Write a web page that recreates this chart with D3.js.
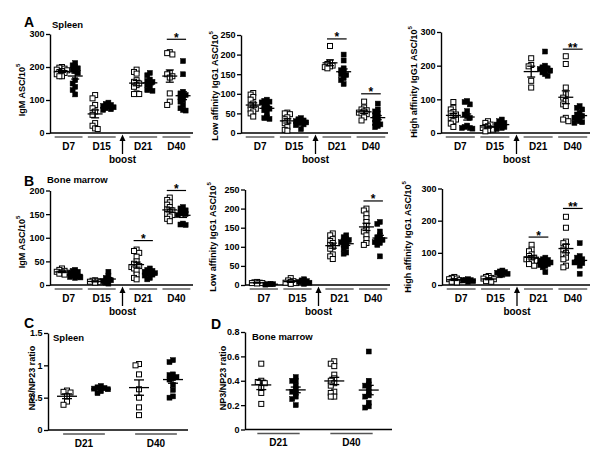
<!DOCTYPE html>
<html><head><meta charset="utf-8">
<script src="https://cdn.jsdelivr.net/npm/d3@7"></script>
<style>
body{margin:0;background:#fff}
text{font-family:Arial,"Liberation Sans",sans-serif;font-weight:bold;fill:#000}
</style>
</head><body>
<svg id="c" width="600" height="454"></svg>
<script>
// ---------- data ----------
const days = ["D7", "D15", "D21", "D40"];
const ratioDays = ["D21", "D40"];

const igmSpleenOpen = [
  [200, 198, 195, 192, 190, 188, 185, 182, 178, 172, 172],
  [115, 105, 85, 75, 65, 55, 30, 22, 14, 12],
  [192, 185, 180, 160, 155, 150, 145, 140, 120, 118, 118],
  [245, 242, 238, 182, 178, 172, 168, 120, 95, 85]
];
const igmSpleenFilled = [
  [212, 205, 200, 196, 192, 188, 182, 160, 150, 140, 130, 117],
  [92, 88, 85, 82, 80, 78, 75, 72, 70],
  [182, 175, 162, 158, 155, 150, 145, 135, 130, 128],
  [218, 178, 125, 120, 115, 112, 108, 100, 95, 85, 75, 70, 68]
];
const lowSpleenOpen = [
  [102, 98, 92, 85, 75, 70, 65, 62, 60, 55, 50, 42],
  [52, 50, 48, 40, 35, 30, 25, 15, 8, 6],
  [222, 180, 176, 172, 170, 168, 165],
  [80, 65, 60, 58, 55, 52, 50, 48, 40, 32]
];
const lowSpleenFilled = [
  [85, 82, 80, 78, 75, 70, 65, 62, 58, 50, 40, 38, 36],
  [38, 35, 32, 30, 28, 27, 25, 22, 20, 10],
  [200, 185, 165, 160, 155, 150, 148, 140, 135, 125],
  [75, 60, 55, 50, 45, 40, 35, 30, 25, 22, 18, 15]
];
const highSpleenOpen = [
  [92, 75, 70, 62, 58, 55, 50, 45, 40, 35, 28, 18],
  [35, 30, 25, 20, 18, 15, 12, 10, 8, 5],
  [222, 202, 198, 155, 135],
  [228, 205, 135, 115, 105, 95, 85, 80, 45, 40, 35]
];
const highSpleenFilled = [
  [95, 92, 85, 65, 55, 50, 45, 22, 18, 15, 15, 13],
  [40, 35, 30, 28, 25, 22, 18, 15, 12],
  [242, 200, 195, 192, 190, 188, 185, 180, 175, 170],
  [80, 75, 70, 60, 55, 50, 48, 45, 40, 35, 32, 30]
];
const igmBMOpen = [
  [35, 32, 30, 28, 27, 26, 25, 24, 22],
  [10, 9, 8, 7, 6, 5],
  [75, 72, 68, 60, 50, 45, 42, 40, 38, 35, 30, 22, 15, 12],
  [185, 180, 175, 170, 165, 160, 158, 155, 150, 148, 145, 140, 135]
];
const igmBMFilled = [
  [32, 30, 28, 25, 22, 20, 18, 17, 16, 15],
  [28, 20, 15, 12, 10, 8, 5, 3],
  [35, 32, 30, 28, 27, 25, 24, 22, 20, 15, 12],
  [165, 162, 158, 155, 152, 150, 148, 130, 128, 127]
];
const lowBMOpen = [
  [8, 7, 6, 5, 5, 4],
  [18, 12, 10, 8, 6, 5, 3],
  [135, 130, 120, 115, 110, 105, 100, 95, 80, 75, 68],
  [200, 195, 185, 175, 165, 155, 145, 140, 130, 120, 110, 105]
];
const lowBMFilled = [
  [3, 2, 2, 1],
  [15, 12, 10, 8, 6, 5, 3],
  [130, 125, 120, 118, 115, 112, 110, 105, 100, 95, 85, 82],
  [165, 160, 140, 130, 125, 120, 118, 115, 112, 110, 105, 75]
];
const highBMOpen = [
  [25, 22, 20, 18, 15, 12, 10, 8],
  [28, 25, 22, 20, 18, 15, 12, 10],
  [125, 110, 105, 95, 90, 85, 82, 80, 78, 75, 70, 65, 60],
  [212, 178, 135, 130, 120, 110, 100, 95, 85, 80, 60, 55]
];
const highBMFilled = [
  [18, 16, 15, 14, 12, 10],
  [45, 42, 40, 38, 35, 32, 30],
  [85, 80, 78, 75, 72, 70, 68, 65, 62, 60, 55, 40],
  [130, 90, 85, 80, 75, 72, 70, 68, 60, 35]
];
const ratioSpleenOpen = [
  [0.61, 0.59, 0.58, 0.52, 0.44, 0.39],
  [1.02, 1.0, 0.86, 0.63, 0.50, 0.35, 0.23]
];
const ratioSpleenFilled = [
  [0.68, 0.66, 0.65, 0.64, 0.63, 0.60, 0.57],
  [1.08, 1.05, 0.86, 0.85, 0.82, 0.80, 0.78, 0.70, 0.62, 0.52, 0.50]
];
const ratioBMOpen = [
  [0.54, 0.40, 0.39, 0.38, 0.34, 0.30, 0.21],
  [0.56, 0.54, 0.52, 0.45, 0.42, 0.40, 0.38, 0.36, 0.31, 0.30, 0.27, 0.27]
];
const ratioBMFilled = [
  [0.43, 0.40, 0.40, 0.36, 0.33, 0.31, 0.30, 0.27, 0.25, 0.20],
  [0.64, 0.40, 0.37, 0.36, 0.34, 0.31, 0.28, 0.27, 0.22, 0.19, 0.18]
];

const igmSpleenSig = [{day: "D40", mark: "*", at: 284}];
const lowSpleenSig = [{day: "D21", mark: "*", at: 240}, {day: "D40", mark: "*", at: 100}];
const highSpleenSig = [{day: "D40", mark: "**", at: 249}];
const igmBMSig = [{day: "D21", mark: "*", at: 94}, {day: "D40", mark: "*", at: 200}];
const lowBMSig = [{day: "D40", mark: "*", at: 220}];
const highBMSig = [{day: "D21", mark: "*", at: 149}, {day: "D40", mark: "**", at: 238}];

const ticks300 = [0, 100, 200, 300];
const ticks250 = [0, 50, 100, 150, 200, 250];
const ticks200 = [0, 50, 100, 150, 200];
const ticksRatioSpleen = [0, 0.5, 1, 1.5];
const ticksRatioBM = [0, 0.2, 0.4, 0.6, 0.8];

// ---------- drawing ----------
const svg = d3.select("#c");

const panels = [
  {open: igmSpleenOpen, filled: igmSpleenFilled, groups: days, ticks: ticks300, sig: igmSpleenSig, type: "time",
   axisX: 50, axisEnd: 193, yTop: 34, y0: 133, label: "IgM ASC/10", sup: "5", labelX: 22, labelY: 90},
  {open: lowSpleenOpen, filled: lowSpleenFilled, groups: days, ticks: ticks250, sig: lowSpleenSig, type: "time",
   axisX: 241, axisEnd: 388, yTop: 35, y0: 133, label: "Low affinity IgG1 ASC/10", sup: "5", labelX: 215, labelY: 86},
  {open: highSpleenOpen, filled: highSpleenFilled, groups: days, ticks: ticks300, sig: highSpleenSig, type: "time",
   axisX: 441, axisEnd: 590, yTop: 32, y0: 133, label: "High affinity IgG1 ASC/10", sup: "5", labelX: 414, labelY: 82},
  {open: igmBMOpen, filled: igmBMFilled, groups: days, ticks: ticks200, sig: igmBMSig, type: "time",
   axisX: 50, axisEnd: 193, yTop: 190.5, y0: 285, label: "IgM ASC/10", sup: "5", labelX: 22, labelY: 242},
  {open: lowBMOpen, filled: lowBMFilled, groups: days, ticks: ticks250, sig: lowBMSig, type: "time",
   axisX: 245, axisEnd: 390, yTop: 189.5, y0: 285, label: "Low affinity IgG1 ASC/10", sup: "5", labelX: 213, labelY: 237},
  {open: highBMOpen, filled: highBMFilled, groups: days, ticks: ticks300, sig: highBMSig, type: "time",
   axisX: 442, axisEnd: 590, yTop: 188.5, y0: 285, label: "High affinity IgG1 ASC/10", sup: "5", labelX: 408, labelY: 237},
  {open: ratioSpleenOpen, filled: ratioSpleenFilled, groups: ratioDays, ticks: ticksRatioSpleen, sig: [], type: "ratio",
   axisX: 48, axisEnd: 188, gStart: 48, gEnd: 192, yTop: 333, y0: 430, label: "NP3/NP23 ratio", sup: "", labelX: 32, labelY: 378},
  {open: ratioBMOpen, filled: ratioBMFilled, groups: ratioDays, ticks: ticksRatioBM, sig: [], type: "ratio",
   axisX: 245, axisEnd: 392, gStart: 242, gEnd: 388, yTop: 332, y0: 429.5, label: "NP3/NP23 ratio", sup: "", labelX: 223, labelY: 378}
];

function swarm(vals, y, step) {
  const order = vals.map((v, i) => i).sort((a, b) => vals[b] - vals[a]);
  const placed = [];
  const off = new Array(vals.length).fill(0);
  const cands = [0, -1, 1, -2, 2].map(k => k * step);
  order.forEach(i => {
    const py = y(vals[i]);
    let best = cands[0], bestScore = Infinity;
    for (const c of cands) {
      const clash = placed.filter(p => Math.abs(p.y - py) < 3.5 && Math.abs(p.x - c) < step).length;
      const score = clash * 10 + Math.abs(c);
      if (score < bestScore) { bestScore = score; best = c; }
    }
    off[i] = best;
    placed.push({x: best, y: py});
  });
  return off;
}

panels.forEach(p => {
  const g = svg.append("g");
  const yMax = d3.max(p.ticks);
  const y = d3.scaleLinear().domain([0, yMax]).range([p.y0, p.yTop]);

  let center, half, colOff, meanHalf, semHalf, step;
  if (p.type === "time") {
    const gx = d3.scaleLinear().domain([0, 4.25]).range([p.axisX + 2, p.axisEnd]);
    const unit = gx(1) - gx(0);
    center = i => gx(i + 0.5 + (i >= 2 ? 0.25 : 0));
    half = 0.42 * unit; colOff = 0.2 * unit; meanHalf = 7.5; semHalf = 4; step = 2.6;
    // boost arrow
    const ax = gx(2.125);
    g.append("path").attr("d", `M${ax},${p.y0 + 1.5} L${ax - 3},${p.y0 + 8} L${ax + 3},${p.y0 + 8} Z`).attr("fill", "#000");
    g.append("line").attr("x1", ax).attr("x2", ax).attr("y1", p.y0 + 7).attr("y2", p.y0 + 21)
      .attr("stroke", "#000").attr("stroke-width", 1.3);
    g.append("text").attr("x", ax).attr("y", p.y0 + 30).attr("text-anchor", "middle")
      .attr("font-size", 10).text("boost");
  } else {
    const gx = d3.scaleLinear().domain([0, 2]).range([p.gStart, p.gEnd]);
    const unit = gx(1) - gx(0);
    center = i => gx(i + 0.5);
    half = 0.29 * unit; colOff = 0.236 * unit; meanHalf = 10; semHalf = 5; step = 3.5;
  }

  // y axis
  const axis = d3.axisLeft(y).tickValues(p.ticks).tickSize(4).tickSizeOuter(0)
    .tickFormat(d3.format("~g"));
  const ag = g.append("g").attr("transform", `translate(${p.axisX},0)`).call(axis);
  ag.select(".domain").attr("stroke", "#000").attr("stroke-width", 1.4);
  ag.selectAll(".tick line").attr("stroke", "#000").attr("stroke-width", 1.3);
  ag.selectAll(".tick text").attr("font-size", 9).attr("font-family", "Arial, 'Liberation Sans', sans-serif")
    .attr("font-weight", "bold").attr("fill", "#000").attr("x", -5.5);

  // x axis line
  g.append("line").attr("x1", p.axisX).attr("x2", p.axisEnd).attr("y1", p.y0).attr("y2", p.y0)
    .attr("stroke", "#000").attr("stroke-width", 1.4);

  // group underlines and labels
  p.groups.forEach((d, i) => {
    const cx = center(i);
    g.append("line").attr("x1", cx - half).attr("x2", cx + half).attr("y1", p.y0 + 4).attr("y2", p.y0 + 4)
      .attr("stroke", "#555").attr("stroke-width", 1.4);
    g.append("text").attr("x", cx).attr("y", p.y0 + 16.5).attr("text-anchor", "middle")
      .attr("font-size", 10).text(d);
  });

  // y label
  const lt = g.append("text").attr("transform", `translate(${p.labelX},${p.labelY}) rotate(-90)`)
    .attr("text-anchor", "middle").attr("dy", "0.35em").attr("font-size", 9).text(p.label);
  if (p.sup) lt.append("tspan").attr("font-size", 6).attr("dy", "-0.9em").text(p.sup);

  // points
  [["open", -1], ["filled", 1]].forEach(([key, sgn]) => {
    p[key].forEach((vals, i) => {
      const cx = center(i) + sgn * colOff;
      const offs = swarm(vals, y, step);
      const sz = 5;
      g.append("g").selectAll("rect").data(vals).join("rect")
        .attr("x", (v, k) => cx + offs[k] - sz / 2)
        .attr("y", v => y(v) - sz / 2)
        .attr("width", sz).attr("height", sz)
        .attr("fill", key === "open" ? "#fff" : "#000")
        .attr("stroke", "#000").attr("stroke-width", key === "open" ? 1 : 0.5);
      // mean ± SEM
      const m = d3.mean(vals);
      const sem = d3.deviation(vals) / Math.sqrt(vals.length);
      const lg = g.append("g").attr("stroke", "#000").attr("stroke-width", 1.3);
      lg.append("line").attr("x1", cx - meanHalf).attr("x2", cx + meanHalf).attr("y1", y(m)).attr("y2", y(m));
      lg.append("line").attr("x1", cx).attr("x2", cx).attr("y1", y(m + sem)).attr("y2", y(m - sem));
      [m + sem, m - sem].forEach(v => lg.append("line").attr("x1", cx - semHalf).attr("x2", cx + semHalf)
        .attr("y1", y(v)).attr("y2", y(v)));
    });
  });

  // significance
  p.sig.forEach(s => {
    const i = p.groups.indexOf(s.day);
    const cx = center(i);
    const by = y(s.at);
    g.append("line").attr("x1", cx - colOff - 3).attr("x2", cx + colOff + 3).attr("y1", by).attr("y2", by)
      .attr("stroke", "#000").attr("stroke-width", 1.2);
    g.append("text").attr("x", cx).attr("y", by + 2.5).attr("text-anchor", "middle")
      .attr("font-size", 12).text(s.mark);
  });
});

// panel letters and titles
const letters = [
  {t: "A", x: 24, y: 27}, {t: "B", x: 24, y: 186}, {t: "C", x: 24, y: 328}, {t: "D", x: 211, y: 329}
];
svg.selectAll("text.letter").data(letters).join("text").attr("class", "letter")
  .attr("x", d => d.x).attr("y", d => d.y).attr("font-size", 14).text(d => d.t);
const titles = [
  {t: "Spleen", x: 52, y: 28}, {t: "Bone marrow", x: 47, y: 183},
  {t: "Spleen", x: 53, y: 341}, {t: "Bone marrow", x: 252, y: 340}
];
svg.selectAll("text.title").data(titles).join("text").attr("class", "title")
  .attr("x", d => d.x).attr("y", d => d.y).attr("font-size", 9.5).text(d => d.t);
</script>
</body></html>
